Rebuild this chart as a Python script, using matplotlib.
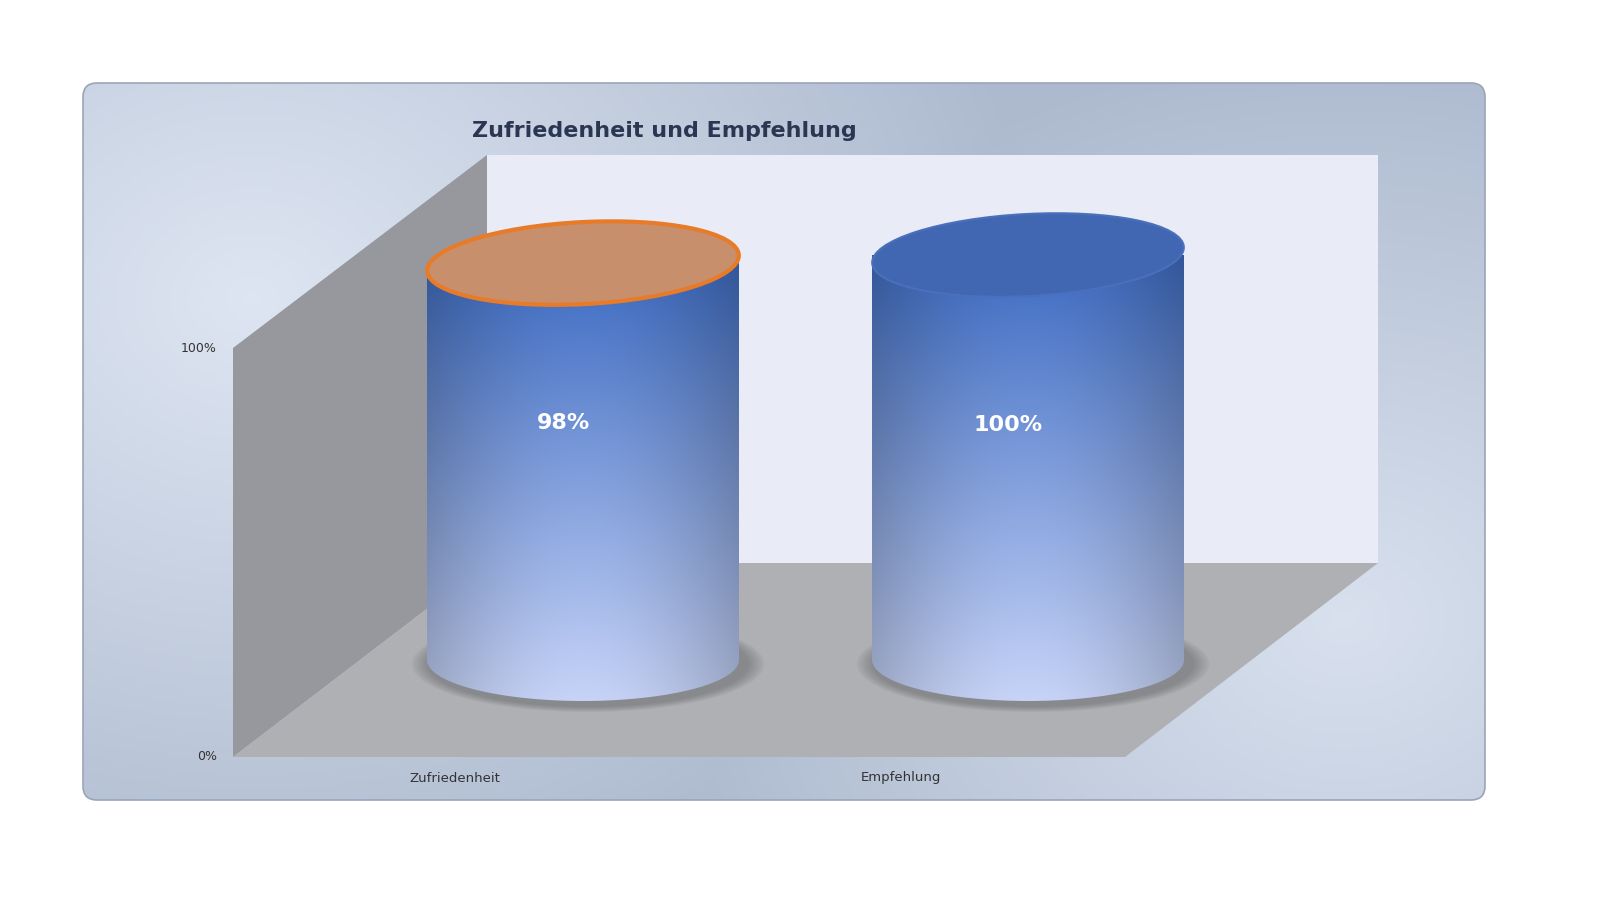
import numpy as np
import matplotlib
matplotlib.use("Agg")
import matplotlib.pyplot as plt
from matplotlib.patches import Polygon, Ellipse, FancyBboxPatch, PathPatch
from matplotlib.path import Path

categories = ["Zufriedenheit", "Empfehlung"]
values = [98, 100]
value_labels = ["98%", "100%"]
tick_labels = ["0%", "100%"]
title = "Zufriedenheit und Empfehlung"

fig = plt.figure(figsize=(16, 9), dpi=100)
ax = fig.add_axes([0, 0, 1, 1])
ax.set_xlim(0, 1600); ax.set_ylim(900, 0); ax.axis("off")

panel = FancyBboxPatch((83, 83), 1402, 717, boxstyle="round,pad=0,rounding_size=14",
                       fc="none", ec="#9aa5b8", lw=1.2, zorder=1)
ax.add_patch(panel)
yy, xx = np.mgrid[0:1:200j, 0:1:400j]
r = np.minimum(np.sqrt(((xx - 0.12) * 1.6) ** 2 + (yy - 0.3) ** 2),
               np.sqrt(((xx - 0.9) * 1.6) ** 2 + (yy - 0.75) ** 2) + 0.1)
c1 = np.array([0.87, 0.90, 0.95]); c2 = np.array([0.68, 0.73, 0.81])
t = np.clip(r / 0.9, 0, 1)[..., None]
img = c1 * (1 - t) + c2 * t
im = ax.imshow(img, extent=(83, 1485, 800, 83), aspect="auto", zorder=0.5)
im.set_clip_path(panel)

ax.add_patch(Polygon([(487, 155), (1378, 155), (1378, 563), (487, 563)], fc="#e9ebf6", ec="none", zorder=2))
ax.add_patch(Polygon([(487, 155), (487, 563), (233, 757), (233, 348)], fc="#97989d", ec="none", zorder=2))
ax.add_patch(Polygon([(233, 757), (1125, 757), (1378, 563), (487, 563)], fc="#afb0b4", ec="none", zorder=2))

y0, scale = 757, (757 - 348) / 100
for lab, v in zip(tick_labels, [0, 100]):
    ax.text(217, y0 - v * scale, lab, ha="right", va="center", fontsize=9, color="#333333", zorder=3)

centers = [583, 1028]
half_w = 156
eh = 82
base = 660
hscale = 405 / 100
dark = np.array([0.24, 0.42, 0.76]); light = np.array([0.78, 0.83, 0.97])
tops = ["#c88f6c", "#4267b2"]
top_edges = ["#e87b28", "#4a70bb"]

for i, (cat, v) in enumerate(zip(categories, values)):
    cx = centers[i]
    top = base - v * hscale
    for k in range(6):
        ax.add_patch(Ellipse((cx + 5, base + 4), 2 * half_w + 40 - k * 6, eh + 14 - k * 2,
                             fc="#505055", ec="none", alpha=0.08, zorder=3))
    th = np.linspace(np.pi, 0, 60)
    xs = cx + half_w * np.cos(th)
    ys = base + (eh / 2) * np.sin(th)
    verts = [(cx - half_w, top)] + list(zip(xs, ys)) + [(cx + half_w, top), (cx - half_w, top)]
    body = PathPatch(Path(verts), fc="none", ec="none", zorder=4)
    ax.add_patch(body)
    gy, gx = np.mgrid[0:1:200j, -1:1:200j]
    shade = (0.74 + 0.26 * np.cos(gx * np.pi / 2.2))[..., None]
    col = (dark * (1 - gy[..., None]) + light * gy[..., None]) * shade + 0.06 * (1 - shade)
    col = np.clip(col, 0, 1)
    bim = ax.imshow(col, extent=(cx - half_w, cx + half_w, base + eh / 2, top), aspect="auto", zorder=4)
    bim.set_clip_path(body)
    ax.add_patch(Ellipse((cx, top), 2 * half_w, eh, angle=-3, fc=tops[i], ec=top_edges[i],
                         lw=3 if i == 0 else 1.5, zorder=5))
    ax.text(cx - 20, top + 160 + (i * 10), value_labels[i], ha="center", va="center", fontsize=16,
            fontweight="bold", color="white", zorder=6)
    ax.text(455 + i * 446, 778, cat, ha="center", va="center", fontsize=9.5, color="#333333", zorder=3)

ax.text(472, 131, title, ha="left", va="center", fontsize=16, fontweight="bold", color="#2b3752", zorder=6)
fig.savefig("out.png", dpi=100)
